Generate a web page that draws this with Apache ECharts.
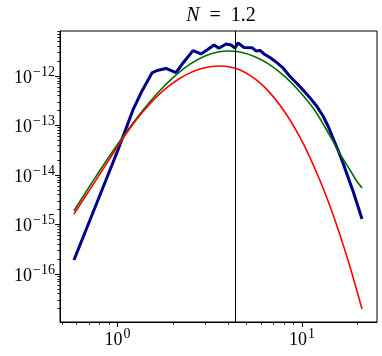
<!DOCTYPE html>
<html><head><meta charset="utf-8">
<script src="https://cdn.jsdelivr.net/npm/echarts@6/dist/echarts.min.js"></script>
<style>html,body{margin:0;padding:0;background:#fff}#c{width:382px;height:356px}</style>
</head><body><div id="c"></div>
<script>
// ---- data ----
const blueX = [0.581,0.784,1.006,1.213,1.358,1.538,1.637,1.832,2.076,2.265,2.566,2.836,3.056,3.334,3.549,3.873,4.123,4.335,4.500,4.850,5.358,5.632,5.921,6.223,6.708,7.231,7.889,8.610,9.396,10.13,11.05,12.06,13.00,13.84,14.72,15.67,16.68,18.90,21.15];
const blueY = [1.919e-16,3.126e-15,3.199e-14,2.056e-13,4.977e-13,1.150e-12,1.291e-12,1.418e-12,1.166e-12,1.830e-12,3.244e-12,2.783e-12,3.352e-12,4.229e-12,3.628e-12,4.431e-12,4.229e-12,3.680e-12,4.642e-12,3.766e-12,3.731e-12,3.200e-12,3.275e-12,2.783e-12,2.365e-12,1.917e-12,1.451e-12,9.77e-13,7.05e-13,5.21e-13,3.61e-13,2.42e-13,1.555e-13,9.77e-14,5.591e-14,3.199e-14,1.747e-14,4.751e-15,1.291e-15];

const greenX = [0.581,0.6664,0.804,0.9693,1.169,1.409,1.699,2.050,2.472,2.981,3.505,3.972,4.613,5.563,6.708,8.088,9.755,11.77,14.19,16.07,18.20,19.62,21.15];
const greenY = [1.891e-15,4.229e-15,1.244e-14,3.51e-14,9.326e-14,2.289e-13,5.094e-13,1.005e-12,1.731e-12,2.535e-12,3.053e-12,3.200e-12,3.039e-12,2.443e-12,1.676e-12,9.68e-13,4.751e-13,1.982e-13,6.137e-14,2.656e-14,1.262e-14,7.925e-15,5.463e-15];

const redX = [0.581,0.7096,0.804,0.9107,1.006,1.169,1.324,1.501,1.699,1.926,2.183,2.472,2.801,3.172,3.594,4.072,4.613,5.226,5.921,6.708,7.601,8.610,9.755,11.05,12.52,14.19,16.07,18.20,21.15];
const redY = [1.630e-15,5.118e-15,1.052e-14,2.164e-14,3.855e-14,8.777e-14,1.615e-13,2.756e-13,4.389e-13,6.519e-13,8.985e-13,1.155e-12,1.378e-12,1.534e-12,1.592e-12,1.520e-12,1.316e-12,1.028e-12,7.221e-13,4.556e-13,2.571e-13,1.291e-13,5.723e-14,2.246e-14,7.706e-15,2.332e-15,6.107e-16,1.398e-16,1.963e-17];

const vlineX = [4.335];

const xMajor = [1, 10];
const xMinor = [0.5,0.6,0.7,0.8,0.9,2,3,4,5,6,7,8,9,20];
const yMajor = [1e-16, 1e-15, 1e-14, 1e-13, 1e-12];
const yMinorMult = [2,3,4,5,6,7,8,9];
const yMinorExp = [-17,-16,-15,-14,-13,-12];

// ---- build ----
const yMinor = [];
yMinorExp.forEach(e => yMinorMult.forEach(m => { const v = m * Math.pow(10, e); if (v < 8.1e-12) yMinor.push(v); }));

const zip = (a, b) => a.map((v, i) => [v, b[i]]);
const FONT = 'Liberation Serif';
const supFmt = v => {
  const e = Math.round(Math.log10(v));
  return '{b|10}{s|' + (e < 0 ? '\u2212' + (-e) : e) + '}';
};
const richLab = {
  b: { fontFamily: FONT, fontSize: 18, color: '#000', lineHeight: 22, verticalAlign: 'bottom' },
  s: { fontFamily: FONT, fontSize: 14, color: '#000', lineHeight: 22, verticalAlign: 'top', padding: [0,0,0,1] }
};
const XMIN = 0.488, XMAX = 25.5, YMIN = 1.07e-17, YMAX = 8.1e-12;

const chart = echarts.init(document.getElementById('c'), null, { renderer: 'canvas' });
chart.setOption({
  animation: false,
  backgroundColor: '#fff',
  title: {
    text: '{i|N}\u2002=\u20021.2', left: 216, top: 1, textAlign: 'center',
    textStyle: { fontFamily: FONT, fontSize: 20, fontWeight: 'normal', color: '#000',
      rich: { i: { fontFamily: FONT, fontSize: 20, fontStyle: 'italic', color: '#000' } } }
  },
  grid: { left: 60, right: 5, top: 31, bottom: 34, show: true, borderColor: '#000', borderWidth: 1, containLabel: false },
  xAxis: [
    { type: 'log', logBase: 10, min: XMIN, max: XMAX, position: 'bottom',
      axisLine: { show: true, lineStyle: { color: '#000', width: 1 } },
      axisTick: { show: true, inside: false, length: 5, lineStyle: { color: '#000', width: 1 }, customValues: xMajor },
      axisLabel: { show: true, margin: 5, customValues: xMajor, formatter: supFmt, rich: richLab },
      splitLine: { show: false }, minorTick: { show: false } },
    { type: 'log', logBase: 10, min: XMIN, max: XMAX, position: 'bottom',
      axisLine: { show: false },
      axisTick: { show: true, inside: false, length: 2.8, lineStyle: { color: '#000', width: 0.8 }, customValues: xMinor },
      axisLabel: { show: false }, splitLine: { show: false } }
  ],
  yAxis: [
    { type: 'log', logBase: 10, min: YMIN, max: YMAX, position: 'left',
      axisLine: { show: true, lineStyle: { color: '#000', width: 1 } },
      axisTick: { show: true, inside: false, length: 5, lineStyle: { color: '#000', width: 1 }, customValues: yMajor },
      axisLabel: { show: true, margin: 5, customValues: yMajor, formatter: supFmt, rich: richLab },
      splitLine: { show: false } },
    { type: 'log', logBase: 10, min: YMIN, max: YMAX, position: 'left',
      axisLine: { show: false },
      axisTick: { show: true, inside: false, length: 2.8, lineStyle: { color: '#000', width: 0.8 }, customValues: yMinor },
      axisLabel: { show: false }, splitLine: { show: false } }
  ],
  series: [
    { type: 'line', data: zip(blueX, blueY), showSymbol: false, smooth: false,
      lineStyle: { color: '#00008b', width: 3 }, z: 2 },
    { type: 'line', data: zip(greenX, greenY), showSymbol: false, smooth: 0.3,
      lineStyle: { color: '#006e00', width: 1.6 }, z: 3 },
    { type: 'line', data: zip(redX, redY), showSymbol: false, smooth: 0.3,
      lineStyle: { color: '#ff0000', width: 1.6 }, z: 4,
      markLine: { silent: true, symbol: 'none', label: { show: false },
        lineStyle: { color: '#000', width: 1, type: 'solid' },
        data: vlineX.map(v => ({ xAxis: v })) } }
  ]
});
</script>
</body></html>
